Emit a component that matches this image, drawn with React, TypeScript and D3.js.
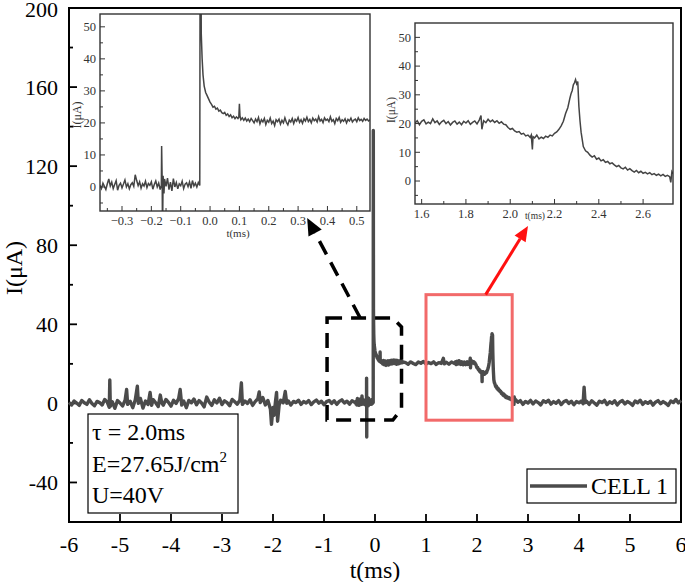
import * as d3 from 'd3'

type Pt = [number, number]

// main axes
const mainXTicks = [-6, -5, -4, -3, -2, -1, 0, 1, 2, 3, 4, 5, 6]
const mainYTicks = [-40, 0, 40, 80, 120, 160, 200]
const mainYMinor = [-20, 20, 60, 100, 140, 180]

// inset axes
const in1XTicks = [-0.3, -0.2, -0.1, 0, 0.1, 0.2, 0.3, 0.4, 0.5]
const in1XMinor = [-0.35, -0.25, -0.15, -0.05, 0.05, 0.15, 0.25, 0.35, 0.45]
const in2XTicks = [1.6, 1.8, 2.0, 2.2, 2.4, 2.6]
const in2XMinor = [1.7, 1.9, 2.1, 2.3, 2.5]
const inYTicks = [0, 10, 20, 30, 40, 50]
const inYMinor = [-5, 5, 15, 25, 35, 45]

// CELL 1 trace, t(ms) / I(uA)
const baselineBefore: Pt[] = [
  [-6, 0.5], [-5.95, -0.8], [-5.9, 1.2], [-5.85, 0.2], [-5.8, -1.0], [-5.75, 1.5], [-5.7, 0.3], [-5.65, -0.5],
  [-5.6, 1.8], [-5.55, 0.0], [-5.5, -1.2], [-5.45, 1.0], [-5.4, 0.4], [-5.35, -0.8], [-5.3, 2.0], [-5.25, 0.6],
  [-5.21, -2.0], [-5.2, 11.8], [-5.19, -1.5], [-5.15, 0.8], [-5.1, -2.5], [-5.05, 1.4], [-5.0, 0.2], [-4.95, -1.3],
  [-4.9, 1.6], [-4.87, 7.0], [-4.85, -0.5], [-4.8, 1.0], [-4.75, -2.2], [-4.7, 1.8], [-4.66, 8.7], [-4.64, 0.0],
  [-4.6, 2.5], [-4.55, -2.4], [-4.5, 1.2], [-4.45, -0.6], [-4.41, 5.5], [-4.38, -1.0], [-4.35, 1.9], [-4.3, 0.3],
  [-4.25, -1.6], [-4.21, 4.2], [-4.18, 0.2], [-4.15, -0.9], [-4.1, 2.0], [-4.05, 0.5], [-4.0, -1.4], [-3.95, 1.6],
  [-3.9, 0.0], [-3.85, 2.4], [-3.82, 7.0], [-3.79, -0.8], [-3.75, 1.2], [-3.7, -2.2], [-3.65, 1.5], [-3.6, 0.3],
  [-3.55, 2.2], [-3.5, -0.7], [-3.45, 1.4], [-3.4, 0.2], [-3.35, -1.8], [-3.3, 3.2], [-3.25, 0.6], [-3.2, -1.0],
  [-3.15, 1.8], [-3.1, 0.2], [-3.05, 2.6], [-3.0, -0.6], [-2.95, 1.3], [-2.9, 0.4], [-2.85, -1.2], [-2.8, 2.0],
  [-2.75, 0.8], [-2.7, -0.4], [-2.65, 1.6], [-2.62, 10.4], [-2.6, -0.5], [-2.55, 1.2], [-2.5, 0.0], [-2.45, 1.8],
  [-2.4, -1.0], [-2.35, 0.9], [-2.3, 2.2], [-2.27, 5.8], [-2.25, 0.4], [-2.2, 3.0], [-2.15, -0.8], [-2.1, 1.5],
  [-2.05, -3.0], [-2.03, -10.6], [-2.0, -2.0], [-1.98, -6.0], [-1.95, 1.2], [-1.93, 5.5], [-1.91, -9.0], [-1.88, -1.0],
  [-1.85, 1.6], [-1.8, 0.3], [-1.76, 6.0], [-1.73, 0.0], [-1.7, 1.2], [-1.65, -0.8], [-1.6, 1.0], [-1.55, 0.4],
  [-1.5, 1.6], [-1.45, -0.5], [-1.4, 0.9], [-1.35, 0.2], [-1.3, 1.4], [-1.25, -0.6], [-1.2, 0.8], [-1.15, 1.7],
  [-1.1, 0.1], [-1.05, 1.1], [-1.0, -0.7], [-0.95, 0.9], [-0.9, 1.5], [-0.85, 0.0], [-0.8, 1.3], [-0.75, -0.5],
  [-0.7, 1.0], [-0.65, 1.8], [-0.6, 0.2], [-0.55, 1.1], [-0.5, -0.4], [-0.45, 1.3], [-0.4, 0.6],
]

// pulse onset (shown in the left inset)
const onsetDetail: Pt[] = [
  [-0.375, 0.5], [-0.37, -0.5], [-0.365, 1.2], [-0.36, 0.2], [-0.355, -0.8], [-0.35, 1.0], [-0.345, 2.5], [-0.34, 0.3],
  [-0.335, 1.5], [-0.33, -0.5], [-0.325, 0.8], [-0.32, 2.0], [-0.315, -1.0], [-0.31, 0.5], [-0.305, 1.2], [-0.3, -0.3],
  [-0.295, 0.9], [-0.29, 2.2], [-0.285, 0.0], [-0.28, 1.0], [-0.275, -0.6], [-0.27, 0.7], [-0.265, 1.3], [-0.26, 0.2],
  [-0.255, 3.8], [-0.25, 2.0], [-0.245, 0.4], [-0.24, 1.6], [-0.235, -0.4], [-0.23, 1.0], [-0.225, 0.3], [-0.22, 1.8],
  [-0.215, -0.2], [-0.21, 1.1], [-0.205, 0.5], [-0.2, 1.6], [-0.195, -0.7], [-0.19, 0.8], [-0.185, 1.9], [-0.18, 0.0],
  [-0.175, 1.2], [-0.17, -0.8], [-0.166, 0.5], [-0.165, 12.8], [-0.163, 1.0], [-0.162, -17.0], [-0.16, 3.5],
  [-0.157, -2.0], [-0.155, 2.5], [-0.15, 0.2], [-0.145, 2.8], [-0.14, -0.8], [-0.135, 1.5], [-0.13, -1.2],
  [-0.125, 2.6], [-0.12, 0.0], [-0.115, 1.4], [-0.11, -0.6], [-0.105, 1.0], [-0.1, 0.4], [-0.095, 1.8], [-0.09, -0.5],
  [-0.085, 0.9], [-0.08, 1.3], [-0.075, 0.1], [-0.07, 1.6], [-0.065, -0.4], [-0.06, 2.0], [-0.055, 0.3], [-0.05, 1.2],
  [-0.045, 0.0], [-0.04, 1.4], [-0.035, 0.5], [-0.033, 138], [-0.03, 48], [-0.027, 40], [-0.024, 35], [-0.02, 31.5],
  [-0.015, 29.5], [-0.01, 28.5], [-0.005, 27.5], [0, 26.5], [0.005, 25.8], [0.01, 24.9], [0.015, 25.2], [0.02, 24.3],
  [0.025, 24.6], [0.03, 23.7], [0.035, 24.0], [0.04, 23.2], [0.045, 22.9], [0.05, 23.3], [0.055, 22.4], [0.06, 22.8],
  [0.065, 22.0], [0.07, 22.5], [0.075, 21.6], [0.08, 22.1], [0.085, 21.3], [0.09, 21.9], [0.095, 21.4], [0.098, 21.8],
  [0.1, 26.0], [0.102, 22.2], [0.105, 21.0], [0.11, 21.6], [0.115, 20.8], [0.12, 21.5], [0.125, 20.6], [0.13, 21.2],
  [0.135, 20.4], [0.14, 21.4], [0.145, 20.7], [0.15, 20.0], [0.155, 21.2], [0.16, 20.4], [0.165, 21.7], [0.17, 19.7],
  [0.175, 21.0], [0.18, 20.3], [0.185, 21.4], [0.19, 19.5], [0.195, 20.8], [0.2, 20.2], [0.205, 21.5], [0.21, 19.8],
  [0.215, 20.6], [0.22, 19.2], [0.225, 21.0], [0.23, 20.4], [0.235, 21.2], [0.24, 19.6], [0.245, 20.8], [0.25, 20.0],
  [0.255, 21.6], [0.26, 20.2], [0.265, 19.4], [0.27, 20.9], [0.275, 20.3], [0.28, 21.4], [0.285, 19.8], [0.29, 21.1],
  [0.295, 20.5], [0.3, 21.7], [0.305, 20.2], [0.31, 21.0], [0.315, 19.9], [0.32, 21.3], [0.325, 20.6], [0.33, 21.8],
  [0.335, 20.4], [0.34, 21.1], [0.345, 20.0], [0.35, 21.5], [0.355, 20.7], [0.36, 21.2], [0.365, 20.3], [0.37, 22.0],
  [0.375, 20.6], [0.38, 21.1], [0.385, 20.1], [0.39, 21.6], [0.395, 20.8], [0.4, 21.2], [0.405, 20.4], [0.41, 21.9],
  [0.415, 20.5], [0.42, 21.0], [0.425, 19.8], [0.43, 21.4], [0.435, 20.7], [0.44, 21.7], [0.445, 20.2], [0.45, 21.0],
  [0.455, 20.5], [0.46, 21.3], [0.465, 20.0], [0.47, 21.1], [0.475, 20.6], [0.48, 21.5], [0.485, 20.3], [0.49, 20.9],
  [0.495, 21.2], [0.5, 20.4], [0.505, 21.6], [0.51, 20.7], [0.515, 21.1], [0.52, 20.5], [0.525, 21.4], [0.53, 20.8],
  [0.535, 21.2], [0.54, 20.6], [0.545, 21.0],
]

const plateau: Pt[] = [
  [0.6, 20.6], [0.65, 19.8], [0.7, 21.0], [0.75, 20.2], [0.8, 19.6], [0.85, 20.9], [0.9, 20.3], [0.95, 21.2],
  [1.0, 19.9], [1.05, 20.7], [1.1, 20.1], [1.15, 21.0], [1.2, 19.7], [1.25, 20.6], [1.3, 20.2], [1.34, 22.8],
  [1.36, 20.0], [1.4, 20.8], [1.45, 19.8], [1.5, 20.9], [1.55, 20.3],
]

// end-of-pulse peak (shown in the right inset)
const peakDetail: Pt[] = [
  [1.57, 20.2], [1.58, 21.0], [1.59, 19.6], [1.6, 20.8], [1.61, 21.3], [1.62, 19.9], [1.63, 20.5], [1.64, 20.0],
  [1.65, 21.6], [1.66, 20.3], [1.67, 20.9], [1.68, 19.7], [1.69, 20.6], [1.7, 21.1], [1.71, 20.0], [1.72, 20.7],
  [1.73, 19.5], [1.74, 20.4], [1.75, 20.9], [1.76, 19.8], [1.77, 20.5], [1.78, 19.6], [1.79, 20.8], [1.8, 20.2],
  [1.81, 21.0], [1.82, 19.7], [1.83, 20.4], [1.84, 20.9], [1.85, 19.9], [1.86, 21.2], [1.868, 22.8], [1.872, 18.0],
  [1.88, 21.0], [1.89, 20.3], [1.9, 21.5], [1.91, 20.6], [1.92, 21.2], [1.93, 20.4], [1.94, 21.0], [1.95, 20.1],
  [1.96, 20.6], [1.97, 19.8], [1.98, 19.6], [1.99, 18.6], [2.0, 18.0], [2.01, 18.3], [2.02, 17.4], [2.03, 17.0],
  [2.04, 17.2], [2.05, 16.3], [2.06, 16.6], [2.07, 15.7], [2.08, 16.0], [2.09, 15.2], [2.095, 16.0], [2.1, 11.0],
  [2.103, 15.4], [2.11, 15.0], [2.12, 16.0], [2.13, 14.7], [2.14, 15.3], [2.15, 14.8], [2.16, 15.6], [2.17, 15.2],
  [2.18, 16.0], [2.19, 15.7], [2.2, 16.6], [2.21, 17.1], [2.22, 18.0], [2.23, 19.2], [2.24, 20.8], [2.25, 23.5],
  [2.26, 25.5], [2.27, 29.0], [2.275, 30.5], [2.28, 31.5], [2.285, 33.5], [2.29, 34.2], [2.295, 35.3], [2.3, 33.8],
  [2.305, 34.6], [2.31, 26.0], [2.315, 21.0], [2.32, 17.0], [2.325, 14.5], [2.33, 12.0], [2.34, 10.5], [2.35, 10.0],
  [2.36, 9.0], [2.37, 8.3], [2.38, 8.8], [2.39, 7.6], [2.4, 8.0], [2.41, 7.0], [2.42, 7.4], [2.43, 6.5],
  [2.44, 6.8], [2.45, 6.0], [2.46, 6.3], [2.47, 5.6], [2.48, 5.0], [2.49, 5.4], [2.5, 4.6], [2.51, 4.2],
  [2.52, 4.8], [2.53, 3.8], [2.54, 4.3], [2.55, 3.6], [2.56, 3.1], [2.57, 3.7], [2.58, 2.9], [2.59, 3.4],
  [2.6, 2.7], [2.61, 3.0], [2.62, 2.5], [2.63, 2.9], [2.64, 2.2], [2.65, 2.6], [2.66, 2.0], [2.67, 2.4],
  [2.68, 1.8], [2.69, 2.3], [2.7, 1.6], [2.71, 2.0], [2.72, 1.5], [2.725, -0.5], [2.73, 3.2], [2.735, 2.5],
]

const baselineAfter: Pt[] = [
  [2.76, 1.8], [2.8, 0.6], [2.85, 1.4], [2.9, -0.5], [2.95, 1.0], [3.0, 0.2], [3.05, 1.5], [3.1, -0.3],
  [3.15, 1.2], [3.2, 0.4], [3.25, -0.8], [3.3, 1.3], [3.35, 0.5], [3.4, 1.6], [3.45, -0.4], [3.5, 0.9],
  [3.55, 0.1], [3.6, 1.4], [3.65, -0.6], [3.7, 0.8], [3.75, 1.5], [3.8, 0.0], [3.85, 1.1], [3.9, -0.7],
  [3.95, 0.9], [4.0, 0.3], [4.05, 1.2], [4.08, -0.2], [4.1, 8.2], [4.12, 0.4], [4.15, 1.0], [4.2, -0.5],
  [4.25, 1.3], [4.3, 0.2], [4.35, -0.9], [4.4, 1.1], [4.45, 0.4], [4.5, 1.5], [4.55, -0.6], [4.6, 0.8],
  [4.65, 0.0], [4.7, 1.3], [4.75, -0.8], [4.8, 0.7], [4.85, 1.4], [4.9, -0.3], [4.95, 0.9], [5.0, 0.2],
  [5.05, -1.0], [5.1, 1.2], [5.15, 0.3], [5.2, 1.6], [5.25, -0.5], [5.3, 0.8], [5.35, 0.0], [5.4, 1.1],
  [5.45, -0.9], [5.5, 0.6], [5.55, 1.4], [5.6, -0.2], [5.65, 0.9], [5.7, 0.1], [5.75, -1.0], [5.8, 1.2],
  [5.85, 0.4], [5.9, 2.0], [5.95, 0.2], [6.0, 1.5],
]

const cell1 = [...baselineBefore, ...onsetDetail, ...plateau, ...peakDetail, ...baselineAfter]

// zoom markers, data coords
const onsetOutline: Pt[] = [[-0.94, 43.2], [0.35, 43.2], [0.52, 38.6], [0.52, -2.8], [0.35, -8.4], [-0.94, -8.4]]
const onsetArrow: Pt[] = [[-0.29, 43.2], [-1.33, 93.8]]
const peakBoxT = [1.0, 2.69]
const peakBoxI = [-8.5, 55]
const peakArrow: Pt[] = [[2.17, 55], [3.0, 89.7]]

const infoLines = ['τ = 2.0ms', 'E=27.65J/cm', 'U=40V']

const FONT = "'Liberation Serif', 'Times New Roman', serif"
const TRACE = '#4b4b4b'

function arrowHead(from: [number, number], to: [number, number], len: number, half: number) {
  const dx = to[0] - from[0]
  const dy = to[1] - from[1]
  const d = Math.hypot(dx, dy)
  const ux = dx / d
  const uy = dy / d
  const bx = to[0] - ux * len
  const by = to[1] - uy * len
  const pts = [to, [bx - uy * half, by + ux * half], [bx + uy * half, by - ux * half]]
  return { head: pts.map((p) => p.join(',')).join(' '), base: [bx, by] as [number, number] }
}

interface InsetProps {
  id: string
  x0: number
  x1: number
  y0: number
  y1: number
  xDomain: [number, number]
  yDomain: [number, number]
  xTicks: number[]
  xMinor: number[]
  data: Pt[]
  fontSize: number
  xLabel: [number, number, number]
  yLabel: [number, number, number]
}

function Inset({ id, x0, x1, y0, y1, xDomain, yDomain, xTicks, xMinor, data, fontSize, xLabel, yLabel }: InsetProps) {
  const x = d3.scaleLinear().domain(xDomain).range([x0, x1])
  const y = d3.scaleLinear().domain(yDomain).range([y1, y0])
  const path = d3
    .line<Pt>()
    .x((d) => x(d[0]))
    .y((d) => y(d[1]))(data.filter((d) => d[0] >= xDomain[0] - 0.01 && d[0] <= xDomain[1] + 0.01))
  const ink = '#333'
  return (
    <g fontFamily={FONT} fill={ink}>
      <defs>
        <clipPath id={id}>
          <rect x={x0} y={y0} width={x1 - x0} height={y1 - y0} />
        </clipPath>
      </defs>
      <rect x={x0} y={y0} width={x1 - x0} height={y1 - y0} fill="#fff" />
      <path d={path ?? ''} fill="none" stroke="#444" strokeWidth={1.5} clipPath={`url(#${id})`} />
      {xTicks.map((t) => (
        <g key={`xt${t}`}>
          <line x1={x(t)} x2={x(t)} y1={y1} y2={y1 - 5} stroke={ink} strokeWidth={1} />
          <text x={x(t)} y={y1 + 14} fontSize={fontSize} textAnchor="middle">
            {d3.format('.1f')(t)}
          </text>
        </g>
      ))}
      {xMinor.map((t) => (
        <line key={`xm${t}`} x1={x(t)} x2={x(t)} y1={y1} y2={y1 - 3} stroke={ink} strokeWidth={1} />
      ))}
      {inYTicks.map((v) => (
        <g key={`yt${v}`}>
          <line x1={x0} x2={x0 + 5} y1={y(v)} y2={y(v)} stroke={ink} strokeWidth={1} />
          <text x={x0 - 4} y={y(v)} dy="0.35em" fontSize={fontSize} textAnchor="end">
            {v}
          </text>
        </g>
      ))}
      {inYMinor.map((v) => (
        <line key={`ym${v}`} x1={x0} x2={x0 + 3} y1={y(v)} y2={y(v)} stroke={ink} strokeWidth={1} />
      ))}
      <rect x={x0} y={y0} width={x1 - x0} height={y1 - y0} fill="none" stroke={ink} strokeWidth={1.4} />
      <text x={xLabel[0]} y={xLabel[1]} fontSize={xLabel[2]} textAnchor="middle">
        t(ms)
      </text>
      <text
        transform={`translate(${yLabel[0]},${yLabel[1]}) rotate(-90)`}
        fontSize={yLabel[2]}
        textAnchor="middle"
      >
        I(μA)
      </text>
    </g>
  )
}

export default function App() {
  const W = 685
  const H = 582
  const left = 69
  const right = 681
  const top = 8
  const bottom = 522

  const x = d3.scaleLinear().domain([-6, 6]).range([left, right])
  const y = d3.scaleLinear().domain([-60, 200]).range([bottom, top])

  const trace = d3
    .line<Pt>()
    .x((d) => x(d[0]))
    .y((d) => y(d[1]))(cell1)

  const outline = d3
    .line<Pt>()
    .x((d) => x(d[0]))
    .y((d) => y(d[1]))(onsetOutline) + 'Z'

  const blackFrom: [number, number] = [x(onsetArrow[0][0]), y(onsetArrow[0][1])]
  const blackTo: [number, number] = [x(onsetArrow[1][0]), y(onsetArrow[1][1])]
  const blackHead = arrowHead(blackFrom, blackTo, 17, 7.5)

  const redFrom: [number, number] = [x(peakArrow[0][0]), y(peakArrow[0][1])]
  const redTo: [number, number] = [x(peakArrow[1][0]), y(peakArrow[1][1])]
  const redHead = arrowHead(redFrom, redTo, 15, 6.5)

  return (
    <svg
      width={W}
      height={H}
      style={{ position: 'absolute', left: 0, top: 0, background: '#fff' }}
      fontFamily={FONT}
    >
      <rect width={W} height={H} fill="#fff" />

      {/* frame */}
      <rect x={left} y={top} width={right - left} height={bottom - top} fill="none" stroke="#000" strokeWidth={2} />

      {/* ticks */}
      {mainXTicks.map((t) => (
        <g key={`mx${t}`}>
          <line x1={x(t)} x2={x(t)} y1={bottom} y2={bottom - 8} stroke="#000" strokeWidth={1.8} />
          <text x={x(t)} y={bottom + 30} fontSize={22} textAnchor="middle">
            {t}
          </text>
        </g>
      ))}
      {mainYTicks.map((v) => (
        <g key={`my${v}`}>
          <line x1={left} x2={left + 8} y1={y(v)} y2={y(v)} stroke="#000" strokeWidth={1.8} />
          <text x={left - 11} y={y(v)} dy={v === 200 ? '0.4em' : '0.35em'} fontSize={22} textAnchor="end">
            {v}
          </text>
        </g>
      ))}
      {mainYMinor.map((v) => (
        <line key={`mm${v}`} x1={left} x2={left + 4} y1={y(v)} y2={y(v)} stroke="#000" strokeWidth={1.8} />
      ))}

      <text x={(left + right) / 2} y={578} fontSize={24} textAnchor="middle">
        t(ms)
      </text>
      <text transform={`translate(22,268) rotate(-90)`} fontSize={24} textAnchor="middle">
        I(μA)
      </text>

      {/* info box */}
      <rect x={88} y={414} width={150} height={99} fill="#fff" stroke="#000" strokeWidth={1.2} />
      <text x={92} y={440} fontSize={24}>
        {infoLines[0]}
      </text>
      <text x={92} y={472} fontSize={24}>
        {infoLines[1]}
        <tspan dy={-10} fontSize={15}>
          2
        </tspan>
      </text>
      <text x={92} y={503} fontSize={24}>
        {infoLines[2]}
      </text>

      {/* legend */}
      <rect x={527} y={469} width={149} height={34} fill="#fff" stroke="#000" strokeWidth={1.2} />
      <line x1={530} x2={587} y1={486} y2={486} stroke={TRACE} strokeWidth={3.5} />
      <text x={591} y={494} fontSize={24}>
        CELL 1
      </text>

      {/* trace */}
      <path d={trace ?? ''} fill="none" stroke={TRACE} strokeWidth={3.4} strokeLinejoin="round" />

      {/* zoom markers */}
      <path d={outline} fill="none" stroke="#000" strokeWidth={3.5} strokeDasharray="15 9" />
      <line
        x1={blackFrom[0]}
        y1={blackFrom[1]}
        x2={blackHead.base[0]}
        y2={blackHead.base[1]}
        stroke="#000"
        strokeWidth={3.5}
        strokeDasharray="15 9"
      />
      <polygon points={blackHead.head} fill="#000" />

      <rect
        x={x(peakBoxT[0])}
        y={y(peakBoxI[1])}
        width={x(peakBoxT[1]) - x(peakBoxT[0])}
        height={y(peakBoxI[0]) - y(peakBoxI[1])}
        fill="none"
        stroke="#f26a6a"
        strokeWidth={3}
      />
      <line
        x1={redFrom[0]}
        y1={redFrom[1]}
        x2={redHead.base[0]}
        y2={redHead.base[1]}
        stroke="#ff1010"
        strokeWidth={3}
      />
      <polygon points={redHead.head} fill="#ff1010" />

      <Inset
        id="clip-onset"
        x0={100}
        x1={370}
        y0={14}
        y1={211}
        xDomain={[-0.375, 0.545]}
        yDomain={[-7.5, 54]}
        xTicks={in1XTicks}
        xMinor={in1XMinor}
        data={onsetDetail}
        fontSize={12.5}
        xLabel={[238, 237, 11]}
        yLabel={[81, 115, 12]}
      />
      <Inset
        id="clip-peak"
        x0={415}
        x1={673}
        y0={23}
        y1={204}
        xDomain={[1.57, 2.735]}
        yDomain={[-8, 55]}
        xTicks={in2XTicks}
        xMinor={in2XMinor}
        data={peakDetail}
        fontSize={12.5}
        xLabel={[535, 219, 9.5]}
        yLabel={[395, 110, 11.5]}
      />
    </svg>
  )
}
